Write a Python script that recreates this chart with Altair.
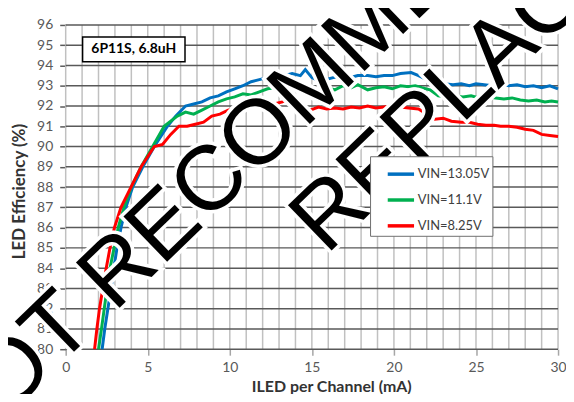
import altair as alt
import pandas as pd

# ---- data ----
series_names = ["VIN=13.05V", "VIN=11.1V", "VIN=8.25V"]
series_colors = ["#0070C0", "#00B050", "#FF0000"]

blue_x = [2.22, 2.38, 2.57, 2.77, 2.93, 3.13, 3.37, 3.67, 4.08, 4.7, 5.4, 6.2, 6.7, 7.3, 7.8, 8.3, 8.8, 9.3,
          9.8, 10.3, 10.8, 11.3, 11.8, 12.3, 12.8, 13.3, 13.8, 14.3, 14.6, 15.0, 15.4, 15.8, 16.3, 16.8,
          17.3, 17.8, 18.4, 18.9, 19.4, 19.9, 20.4, 21.05, 21.5, 22.0, 22.5, 23.07, 23.6, 24.1, 24.6,
          25.0, 25.5, 26.0, 26.5, 27.0, 27.5, 28.0, 28.5, 29.0, 29.5, 30.0]
blue_y = [80, 81, 82, 83, 84, 85, 86, 87, 88, 89, 90, 91, 91.5, 92, 92.1, 92.2, 92.4, 92.5,
          92.7, 92.85, 93.0, 93.2, 93.3, 93.4, 93.3, 93.5, 93.6, 93.5, 93.8, 93.4, 93.25, 93.3, 93.4, 93.45,
          93.4, 93.5, 93.5, 93.45, 93.5, 93.5, 93.6, 93.65, 93.5, 93.3, 93.2, 93.1, 93.05, 93.1, 93.0,
          93.1, 93.05, 93.0, 93.1, 93.0, 93.05, 92.95, 93.0, 92.9, 93.0, 92.85]

green_x = [2.0, 2.18, 2.35, 2.52, 2.7, 2.95, 3.2, 3.55, 4.0, 4.6, 5.3, 6.0, 6.8, 7.3, 7.8, 8.3, 8.8, 9.3,
           9.8, 10.3, 10.8, 11.3, 11.8, 12.3, 12.8, 13.3, 13.8, 14.3, 14.8, 15.4, 15.9, 16.4, 16.9, 17.4,
           17.8, 18.4, 18.9, 19.4, 19.9, 20.4, 20.9, 21.3, 21.7, 22.2, 22.7, 23.2, 23.7, 24.2, 24.7, 25.2,
           25.7, 26.2, 26.7, 27.2, 27.7, 28.2, 28.7, 29.2, 29.6, 30.0]
green_y = [80, 81, 82, 83, 84, 85, 86, 87, 88, 89, 90, 91, 91.5, 91.7, 91.6, 91.8, 92.0, 92.2,
           92.35, 92.45, 92.6, 92.55, 92.7, 92.85, 92.9, 92.8, 93.0, 93.0, 92.8, 92.85, 92.9, 92.8, 93.0, 92.9,
           93.05, 92.8, 92.9, 92.95, 92.85, 93.0, 92.95, 93.0, 92.9, 92.8, 92.5, 92.45, 92.5, 92.45, 92.5, 92.4,
           92.45, 92.4, 92.35, 92.4, 92.3, 92.25, 92.3, 92.2, 92.25, 92.2]

red_x = [1.76, 1.9, 2.06, 2.26, 2.47, 2.7, 2.97, 3.37, 3.98, 4.6, 5.4, 5.9, 6.4, 6.9, 7.4, 7.9, 8.4, 8.9,
         9.4, 9.9, 10.4, 10.95, 11.4, 11.8, 12.2, 12.7, 13.2, 13.6, 14.0, 14.4, 14.9, 15.4, 15.9, 16.4,
         16.9, 17.4, 17.9, 18.4, 18.9, 19.4, 19.9, 20.4, 20.9, 21.5, 22.0, 22.5, 23.0, 23.5, 24.1, 24.6,
         25.1, 25.6, 26.1, 26.5, 27.0, 27.5, 28.0, 28.5, 29.0, 29.5, 30.0]
red_y = [80, 81, 82, 83, 84, 85, 86, 87, 88, 89, 90, 90.1, 90.6, 91.0, 91.0, 91.1, 91.2, 91.5,
         91.6, 91.8, 91.9, 92.2, 92.05, 92.15, 92.0, 92.1, 92.2, 92.35, 92.3, 92.0, 91.8, 91.95, 91.85, 91.9,
         91.85, 91.95, 91.9, 92.0, 91.9, 91.95, 92.0, 91.95, 91.9, 91.85, 91.6, 91.35, 91.4, 91.25, 91.2, 91.2,
         91.1, 91.05, 91.05, 91.0, 91.0, 90.95, 90.85, 90.8, 90.6, 90.55, 90.5]

x_ticks = list(range(0, 31))
x_label_ticks = list(range(0, 31, 5))
y_ticks = list(range(80, 97))

annotation_label = ["6P11S, 6.8uH"]
annot_box_x = [1.03]
annot_box_x2 = [7.27]
annot_box_y = [95.41]
annot_box_y2 = [94.18]
annot_text_x = [4.15]
annot_text_y = [94.8]

watermark_lines = ["NOT RECOMMENDED FOR NEW DESIGNS", "REPLACED BY"]

X_TITLE = "ILED per Channel (mA)"
Y_TITLE = "LED Efficiency (%)"

# ---- tables ----
rows = []
for name, xs, ys in zip(series_names, [blue_x, green_x, red_x], [blue_y, green_y, red_y]):
    for i, (a, b) in enumerate(zip(xs, ys)):
        rows.append({"series": name, "iled": a, "eff": b, "order": i})
df = pd.DataFrame(rows)

grid_x_df = pd.DataFrame({"gx": x_ticks})
grid_y_df = pd.DataFrame({"gy": y_ticks})

annot_df = pd.DataFrame({"x": annot_box_x, "x2": annot_box_x2, "y": annot_box_y, "y2": annot_box_y2,
                         "tx": annot_text_x, "ty": annot_text_y, "label": annotation_label})
wm1 = pd.DataFrame({"t": [watermark_lines[0]]})
wm2 = pd.DataFrame({"t": [watermark_lines[1]]})

x_scale = alt.Scale(domain=[0, 30], nice=False, zero=False)
y_scale = alt.Scale(domain=[80, 96], nice=False, zero=False)

x_axis = alt.Axis(
    values=x_label_ticks, grid=False, ticks=True, domain=False,
    tickColor="#A6A6A6", tickSize=6, tickWidth=1.5,
    labelFont="Lato", labelFontSize=14, labelColor="#595959", labelPadding=5,
    labelOverlap=False, labelFlush=False,
    titleFont="Lato", titleFontSize=16, titleFontWeight="bold", titleColor="#333333",
    titleX=267, titleY=38, titleBaseline="middle",
)
y_axis = alt.Axis(
    values=y_ticks, grid=False, ticks=True, domain=False,
    tickColor="#595959", tickSize=6, tickWidth=1.5,
    labelFont="Lato", labelFontSize=14, labelColor="#595959", labelPadding=7,
    labelOverlap=False, labelFlush=False,
    titleFont="Lato", titleFontSize=17, titleFontWeight="bold", titleColor="#333333",
    titleX=-46, titleY=167, titleBaseline="middle",
)


def X(field):
    return alt.X(field, scale=x_scale, axis=x_axis, title=X_TITLE)


def Y(field):
    return alt.Y(field, scale=y_scale, axis=y_axis, title=Y_TITLE)


# gridlines through the chart's own scales
vgrid = alt.Chart(grid_x_df).mark_rule(color="#C0C0C0", strokeWidth=1.5).encode(x=X("gx:Q"))
hgrid = alt.Chart(grid_y_df).mark_rule(color="#595959", strokeWidth=1.5).encode(y=Y("gy:Q"))

lines = alt.Chart(df).mark_line(strokeWidth=3).encode(
    x=X("iled:Q"),
    y=Y("eff:Q"),
    color=alt.Color(
        "series:N",
        scale=alt.Scale(domain=series_names, range=series_colors),
        legend=alt.Legend(
            title=None, orient="none", legendX=306, legendY=132,
            strokeColor="#6F6F6F", fillColor="white", padding=3,
            symbolType="stroke", symbolSize=700, symbolStrokeWidth=3.5, symbolOffset=13,
            labelFont="Lato", labelFontSize=13, labelColor="#404040",
            rowPadding=4, labelOffset=2,
        ),
    ),
    order="order:Q",
)

box = alt.Chart(annot_df).mark_rect(fill="white", stroke="black", strokeWidth=1.5).encode(
    x=X("x:Q"), x2="x2:Q", y=Y("y:Q"), y2="y2:Q",
)
box_text = alt.Chart(annot_df).mark_text(font="Lato", fontSize=14, fontWeight="bold", color="black").encode(
    x=X("tx:Q"), y=Y("ty:Q"), text="label:N",
)


def watermark(data, px, py, halo):
    if halo:
        mk = alt.Chart(data).mark_text(align="left", baseline="alphabetic", angle=316, fontSize=92,
                                       font="Liberation Sans", fill="white", stroke="white", strokeWidth=7)
    else:
        mk = alt.Chart(data).mark_text(align="left", baseline="alphabetic", angle=316, fontSize=92,
                                       font="Liberation Sans", fill="black")
    return mk.encode(x=alt.value(px), y=alt.value(py), text="t:N")


chart = alt.layer(
    vgrid, hgrid, lines, box, box_text,
    watermark(wm1, -108, 441, True), watermark(wm1, -108, 441, False),
    watermark(wm2, 262, 232, True), watermark(wm2, 262, 232, False),
).properties(
    width=495, height=326,
    padding={"left": 58, "top": 16, "right": 8, "bottom": 44},
    autosize=alt.AutoSizeParams(type="none"),
    background="white",
).configure_view(stroke=None)

chart.save("out.html", embed_options={"renderer": "svg", "actions": False})
